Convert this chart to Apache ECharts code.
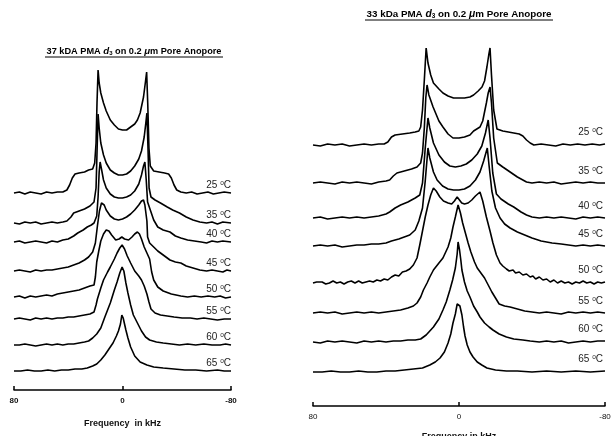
<!DOCTYPE html>
<html>
<head>
<meta charset="utf-8">
<script src="https://cdn.jsdelivr.net/npm/echarts@6/dist/echarts.min.js"></script>
<style>html,body{margin:0;padding:0;background:#fff}#chart{width:612px;height:436px}</style>
</head>
<body>
<div id="chart"></div>
<script>
const FONT = '"Liberation Sans", Arial, sans-serif';
const temps = ['25', '35', '40', '45', '50', '55', '60', '65'];
const freqTicks = [80, 0, -80];

// vertical stacking offset of each trace (top trace first)
const offsetsLeft = [197, 167, 148, 119, 93, 71, 45, 19];
const offsetsRight = [261, 223, 188, 160, 123, 93, 64, 34];

// ---- 37 kDa spectra, [frequency kHz, intensity] ----
const left25 = [[80,0],[76,1],[72,-1],[68,1],[64,0],[60,-1],[56,1],[52,0],[48,1],[44,1],[41,3],[39,8],[37,15],[35,19],[32,20],[28,21],[25,23],[22,24],[20.5,30],[19.5,50],[18.8,90],[18,123],[17.2,110],[16,100],[14,90],[12,82],[9,73],[6,68],[3,64],[0,63],[-3,63],[-6,66],[-9,69],[-11,73],[-13,80],[-15.5,96],[-17,112],[-17.8,121],[-18.6,90],[-19.5,45],[-20.5,27],[-23,22],[-27,21],[-31,20],[-34,19],[-36,15],[-38,8],[-40,3],[-43,1],[-47,0],[-51,1],[-55,-1],[-59,0],[-63,1],[-67,-1],[-71,0],[-75,1],[-80,0]];
const left35 = [[80,0],[76,-1],[72,1],[68,0],[64,1],[60,-1],[56,0],[52,1],[48,0],[44,1],[41,2],[38,6],[36,10],[32,12],[28,14],[24,17],[21,21],[19.5,35],[18.8,70],[18,109],[17.2,95],[16,80],[14,68],[12,60],[9,53],[6,50],[3,48],[0,48],[-3,49],[-6,52],[-9,57],[-12,64],[-14,72],[-16,86],[-17.2,100],[-18,110],[-18.8,75],[-19.6,35],[-21,26],[-24,23],[-28,20],[-33,16],[-37,13],[-42,10],[-47,6],[-52,3],[-57,1],[-62,0],[-66,1],[-70,-1],[-74,1],[-80,0]];
const left40 = [[80,0],[76,1],[72,-1],[68,0],[64,1],[60,0],[56,-1],[52,1],[48,0],[44,2],[40,3],[36,6],[33,9],[29,12],[26,15],[23,17],[21,19],[19,26],[18,45],[17.2,70],[16.5,80],[15.5,73],[14,62],[12,54],[9,48],[6,45],[3,44],[0,44],[-3,45],[-6,47],[-9,51],[-12,58],[-14,67],[-15.5,76],[-16.5,80],[-17.5,62],[-18.5,40],[-20.5,32],[-23,22],[-26,15],[-30,12],[-35,10],[-39,6],[-43,4],[-48,2],[-53,1],[-58,0],[-62,-1],[-66,1],[-70,0],[-74,1],[-80,0]];
const left45 = [[80,0],[76,1],[72,0],[68,-1],[64,1],[60,0],[56,1],[52,1],[48,2],[44,3],[40,4],[36,6],[32,8],[28,11],[25,14],[22,19],[20,28],[18.5,45],[17,60],[15.5,68],[14.7,69],[13.5,66],[12,61],[9,55],[6,52],[3,51],[0,52],[-3,54],[-6,57],[-9,61],[-12,66],[-14,70],[-15.5,71],[-16.5,66],[-18,50],[-18.5,34],[-20,28],[-23,24],[-26,20],[-28,18],[-32,14],[-35,11],[-39,9],[-43,8],[-47,5],[-52,3],[-57,1],[-62,0],[-66,1],[-70,0],[-74,-1],[-77,1],[-80,0]];
const left50 = [[80,0],[76,1],[72,-1],[68,1],[64,0],[60,1],[56,2],[52,1],[48,3],[44,4],[40,5],[36,6],[32,7],[28,9],[24,11],[21,12],[20,20],[19,35],[17.5,46],[16,56],[14,63],[12,67],[10,66],[8,62],[5,57],[2.5,58],[0.5,60],[-1.5,58],[-4.5,57],[-7,60],[-9,63],[-11,65],[-12.5,63],[-14,58],[-16,50],[-18,44],[-20,38],[-21.5,25],[-23,17],[-26,10],[-30,6],[-36,3],[-43,1],[-48,0],[-53,1],[-58,0],[-63,1],[-68,0],[-72,1],[-76,-1],[-80,0]];
const left55 = [[80,0],[76,1],[72,0],[68,-1],[64,1],[60,0],[56,1],[52,0],[48,1],[44,1],[40,2],[36,2],[32,3],[28,4],[24,5],[21,7],[19.5,14],[18.5,20],[16,31],[14,39],[11,47],[9,52],[6,60],[4,66],[2,71],[0.3,74],[-1.5,70],[-3.5,63],[-6,56],[-9,48],[-12,43],[-14,39],[-16,33],[-18,25],[-19.5,17],[-21,10],[-24,6],[-28,4],[-33,3],[-38,2],[-44,1],[-50,1],[-55,0],[-60,1],[-65,0],[-70,-1],[-75,0],[-80,0]];
const left60 = [[80,0],[76,0],[72,1],[68,0],[64,-1],[60,0],[56,1],[52,0],[48,1],[44,0],[40,1],[36,1],[32,2],[28,3],[25,4],[22,7],[19,11],[16,17],[13,28],[11,35],[9,42],[6,55],[4,63],[2,72],[0.3,78],[-1,74],[-2.5,62],[-4,52],[-6,40],[-8,30],[-11,22],[-14,14],[-17,8],[-20,5],[-25,3],[-30,2],[-36,1],[-42,0],[-48,1],[-54,0],[-60,1],[-66,0],[-72,0],[-76,1],[-80,0]];
const left65 = [[80,0],[75,0],[70,1],[65,0],[60,0],[55,1],[50,0],[45,1],[40,1],[35,2],[30,2],[26,3],[22,5],[19,7],[16,11],[13,16],[10,22],[7,28],[4.5,35],[3,40],[1.5,47],[0.5,56],[-0.5,53],[-1.5,47],[-2.5,41],[-4,33],[-6,24],[-9,15],[-13,9],[-18,6],[-23,4],[-30,3],[-38,2],[-46,1],[-54,1],[-62,0],[-70,1],[-75,0],[-80,0]];

// ---- 33 kDa spectra, [frequency kHz, intensity] ----
const right25 = [[80,0],[76,-1],[72,1],[68,0],[64,1],[60,-1],[56,0],[52,1],[48,0],[44,1],[41,1],[39,3],[37,8],[35,10],[31,11],[27,12],[24,13],[22,14],[21,18],[20,35],[19,65],[18,97],[17,82],[15.5,70],[14,62],[11,56],[8.8,52],[6,49],[3,47],[0.5,47],[-3,47],[-6,48],[-8,50],[-10.5,54],[-12.6,58],[-14,64],[-15.3,78],[-16.3,90],[-17,97],[-17.8,70],[-19,35],[-20.8,16],[-24,14],[-27,13],[-30,12],[-33,11],[-35,9],[-37,5],[-39,2],[-41,0],[-45,1],[-49,0],[-53,-1],[-57,1],[-61,0],[-65,1],[-69,0],[-73,1],[-77,0],[-80,1]];
const right35 = [[80,0],[76,1],[72,0],[68,-1],[64,1],[60,0],[56,1],[52,0],[48,-1],[44,1],[40,2],[38,3],[36,7],[34,10],[30,12],[26,14],[23,16],[21,20],[20,30],[19,55],[18.2,85],[17.5,98],[16.5,88],[14.2,76],[11,62],[8.8,56],[6,49],[3.3,45],[0,45],[-3,46],[-6,48],[-8,52],[-11.5,56],[-13,62],[-15,80],[-16,90],[-17,96],[-17.8,80],[-19,45],[-21,20],[-24,16],[-28,11],[-32,6],[-35,3],[-37,1],[-40,0],[-44,1],[-48,0],[-52,1],[-56,-1],[-60,0],[-64,1],[-68,0],[-72,1],[-76,0],[-80,0]];
const right40 = [[80,0],[76,1],[72,-1],[68,0],[64,1],[60,0],[56,1],[52,0],[48,1],[44,2],[40,4],[38,6],[35,10],[32,13],[28,16],[24,20],[21.5,23],[20,35],[18.5,70],[17,100],[16,90],[14,75],[11,63],[8,56],[5,52],[2,51],[-1,52],[-4,54],[-7,58],[-10,64],[-12.5,72],[-14.5,85],[-16,98],[-17,80],[-18.5,45],[-20.5,24],[-23,19],[-27,14],[-30,11],[-34,6],[-37,3],[-40,1],[-44,0],[-48,1],[-52,0],[-56,1],[-60,0],[-64,-1],[-68,1],[-72,0],[-76,1],[-80,0]];
const right45 = [[80,0],[76,1],[72,0],[68,1],[64,-1],[60,0],[56,1],[52,1],[48,2],[44,2],[40,3],[37,5],[33,7],[30,9],[27,11],[24,16],[22,25],[20,38],[18.5,65],[17,98],[16,88],[14,74],[12,66],[9,60],[6,57],[3,56],[0,56],[-3,57],[-6,60],[-9,66],[-11.5,74],[-13.5,85],[-15.5,98],[-16.5,80],[-18,55],[-20,38],[-22.5,28],[-25,22],[-28,18],[-32,14],[-36,11],[-40,8],[-45,5],[-51,3],[-56,2],[-60,1],[-64,0],[-68,1],[-72,0],[-76,1],[-80,0]];
const right50 = [[80,0],[78,1],[77,-1],[75,1],[73,-1],[71,0],[69,2],[67,0],[65,1],[63,-1],[61,1],[59,2],[57,0],[55,2],[53,0],[51,1],[49,2],[47,1],[45,3],[43,2],[41,4],[39,3],[37,6],[35,8],[33,7],[31,11],[29,12],[27,14],[25,18],[23,25],[21.5,38],[20,52],[18.5,66],[17,78],[15.5,88],[14,95],[12.5,92],[10.5,86],[8.5,82],[6,80],[4,79],[2.5,82],[1,86],[0,84],[-1.5,80],[-3,79],[-5,80],[-7,83],[-9,87],[-11.5,91],[-13,82],[-15,66],[-17,52],[-18.6,40],[-20.5,28],[-22.5,20],[-24,17],[-26,14],[-27.5,12],[-29.6,13],[-31,10],[-33,11],[-35,8],[-37,9],[-39,6],[-40.5,7],[-42,4],[-44,6],[-46,3],[-48,4],[-50,1],[-52,3],[-54,0],[-56,2],[-58,0],[-60,1],[-62,-1],[-64,1],[-66,0],[-68,2],[-70,0],[-72,1],[-74,-1],[-76,1],[-78,0],[-80,1]];
const right55 = [[80,0],[76,1],[72,0],[68,1],[64,-1],[60,0],[56,1],[52,0],[48,1],[44,0],[40,1],[36,2],[32,3],[28,5],[25,7],[23,10],[21,16],[19.5,23],[17.5,30],[16,36],[14,43],[11,50],[8.8,55],[6,66],[4.5,75],[3.3,86],[2,96],[0.5,108],[-0.8,100],[-2,90],[-3.5,80],[-5,70],[-6.5,61],[-8.5,51],[-10,45],[-12,40],[-14,35],[-16,28],[-18,21],[-20,15],[-22,9],[-25,7],[-28,6],[-32,4],[-36,2],[-40,1],[-44,0],[-48,1],[-52,0],[-56,-1],[-60,1],[-64,0],[-68,1],[-72,0],[-76,1],[-80,0]];
const right60 = [[80,0],[76,-1],[72,1],[68,0],[64,1],[60,0],[56,-1],[52,1],[48,0],[44,1],[40,0],[36,1],[32,1],[28,2],[24,2],[21,3],[18,7],[16,11],[14,15],[11,23],[8.8,32],[7,40],[5,52],[3.5,62],[2,74],[1,88],[0.5,100],[-0.3,92],[-1,82],[-1.6,72],[-3,60],[-4.5,51],[-6,45],[-8,36],[-10,30],[-11.5,25],[-14,19],[-16.5,15],[-18.6,12],[-22,8],[-26,5],[-30,3],[-35,2],[-39,1],[-44,0],[-48,1],[-52,0],[-56,1],[-60,-1],[-64,0],[-68,1],[-72,0],[-76,1],[-80,1]];
const right65 = [[80,0],[75,0],[70,1],[65,0],[60,0],[55,1],[50,0],[45,0],[40,1],[35,1],[30,2],[25,3],[20,4],[16,7],[13,10],[10.4,14],[8,20],[6,29],[4.5,38],[3.3,49],[2,58],[1,68],[0.5,70],[-0.5,66],[-1.6,57],[-2.5,45],[-3.3,36],[-4.5,27],[-6,20],[-7.7,15],[-10,10],[-12.5,7],[-15.3,4],[-20,2],[-26,1],[-32,1],[-40,0],[-48,1],[-56,0],[-64,1],[-72,0],[-80,1]];

const leftSpectra = [left25, left35, left40, left45, left50, left55, left60, left65];
const rightSpectra = [right25, right35, right40, right45, right50, right55, right60, right65];

const chart = echarts.init(document.getElementById('chart'));

function buildSeries(spectra, offsets, idx, labelOffset) {
  return spectra.map(function (sp, i) {
    return {
      type: 'line',
      xAxisIndex: idx,
      yAxisIndex: idx,
      data: sp.map(p => [p[0], p[1] + offsets[i]]),
      symbol: 'none',
      silent: true,
      clip: false,
      lineStyle: { color: '#000', width: 1.6 },
      endLabel: {
        show: true,
        formatter: temps[i] + ' {s|o}C',
        align: 'right',
        verticalAlign: 'bottom',
        distance: 0,
        offset: labelOffset,
        fontFamily: FONT,
        fontSize: 10,
        color: '#222',
        rich: { s: { fontSize: 6.5, verticalAlign: 'top', fontFamily: FONT, color: '#222' } }
      }
    };
  });
}

function xAxisFor(idx, bold, margin, gap) {
  return {
    gridIndex: idx,
    type: 'value',
    inverse: true,
    min: -80,
    max: 80,
    interval: 80,
    name: idx === 0 ? 'Frequency  in kHz' : 'Frequency in kHz',
    nameLocation: 'middle',
    nameGap: gap,
    nameTextStyle: { fontFamily: FONT, fontSize: 9, fontWeight: 'bold', color: '#111' },
    axisLine: { onZero: false, lineStyle: { color: '#000', width: 1.5 } },
    axisTick: { inside: true, length: 4, lineStyle: { color: '#000', width: 1.5 } },
    axisLabel: {
      margin: margin, fontFamily: FONT, fontSize: 8, color: '#111',
      fontWeight: bold ? 'bold' : 'normal',
      customValues: freqTicks
    },
    splitLine: { show: false }
  };
}

function titleRich(size) {
  return {
    i: { fontStyle: 'italic', fontWeight: 'bold', fontSize: size + 0.5, fontFamily: FONT },
    sub: { fontSize: size * 0.65, fontWeight: 'bold', verticalAlign: 'bottom', fontFamily: FONT },
    mu: { fontStyle: 'italic', fontWeight: 'bold', fontSize: size + 0.5, fontFamily: FONT }
  };
}

chart.setOption({
  animation: false,
  backgroundColor: '#fff',
  grid: [
    { left: 14, right: 381, top: 60, bottom: 46, outerBoundsMode: 'none', containLabel: false },
    { left: 313, right: 7, top: 30, bottom: 30, outerBoundsMode: 'none', containLabel: false }
  ],
  xAxis: [xAxisFor(0, true, 7, 29), xAxisFor(1, false, 7, 26)],
  yAxis: [
    { gridIndex: 0, type: 'value', min: 0, max: 330, show: false },
    { gridIndex: 1, type: 'value', min: 0, max: 376, show: false }
  ],
  graphic: [
    { type: 'text', x: 134, y: 51, style: { text: '37 kDA PMA {i|d}{sub|3} on 0.2 {mu|μ}m Pore Anopore', align: 'center', verticalAlign: 'middle', fontFamily: FONT, fontSize: 9.2, fontWeight: 'bold', fill: '#000', rich: titleRich(9.2) } },
    { type: 'line', shape: { x1: 45, y1: 57, x2: 223, y2: 57 }, style: { stroke: '#000', lineWidth: 1 } },
    { type: 'text', x: 459, y: 14, style: { text: '33 kDa PMA {i|d}{sub|3} on 0.2 {mu|μ}m Pore Anopore', align: 'center', verticalAlign: 'middle', fontFamily: FONT, fontSize: 9.8, fontWeight: 'bold', fill: '#000', rich: titleRich(9.8) } },
    { type: 'line', shape: { x1: 365, y1: 20, x2: 553, y2: 20 }, style: { stroke: '#000', lineWidth: 1 } }
  ],
  series: buildSeries(leftSpectra, offsetsLeft, 0, [0, -3])
    .concat(buildSeries(rightSpectra, offsetsRight, 1, [-2, -7]))
});
</script>
</body>
</html>
